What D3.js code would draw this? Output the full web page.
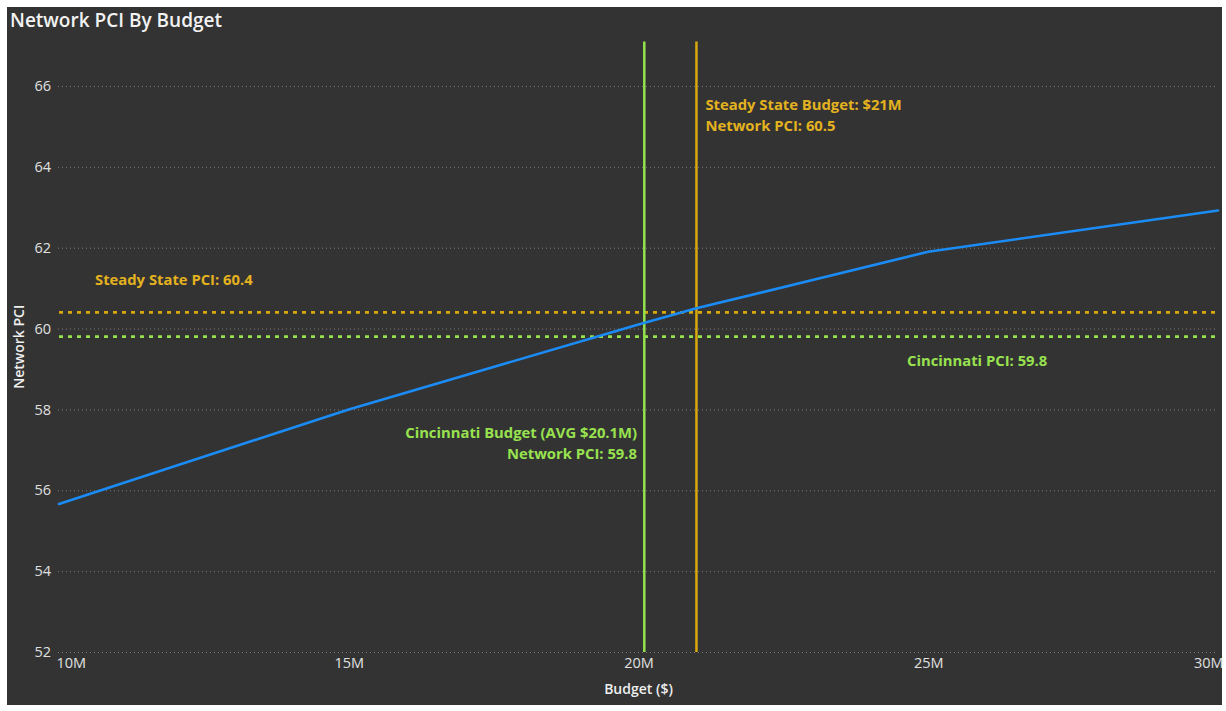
<!DOCTYPE html>
<html>
<head>
<meta charset="utf-8">
<script src="https://cdn.jsdelivr.net/npm/d3@7"></script>
<style>
  html, body { margin: 0; padding: 0; background: #ffffff; }
  svg { display: block; }
  text { font-family: "Open Sans", "Noto Sans", sans-serif; }
</style>
</head>
<body>
<svg id="chart" width="1226" height="711"></svg>
<script>
// Budget (millions of dollars) vs. resulting network PCI
const budgets = [10, 15, 20, 21, 25, 30];
const networkPci = [55.66, 58.0, 60.1, 60.5, 61.9, 62.92];

const yTicks = [52, 54, 56, 58, 60, 62, 64, 66];
const xTicks = [10, 15, 20, 25, 30];

// Reference values
const steadyStateBudget = 21;
const steadyStatePci = 60.4;
const cincinnatiBudget = 20.1;
const cincinnatiPci = 59.8;

const colors = {
  panel: "#333333",
  grid: "#7a7a7a",
  text: "#e0e0e0",
  line: "#1b8cf5",
  orange: "#d9a90d",
  orangeText: "#e3b21f",
  green: "#94e24c",
  greenText: "#98e24f"
};

const svg = d3.select("#chart");

svg.append("rect")
  .attr("x", 7).attr("y", 7)
  .attr("width", 1215).attr("height", 698)
  .attr("fill", colors.panel);

const x = d3.scaleLinear().domain([10, 30]).range([59, 1218]);
const y = d3.scaleLinear().domain([52, 67.1]).range([652, 41.5]);

// Title
svg.append("text")
  .attr("x", 10).attr("y", 27)
  .attr("fill", "#f2f2f2")
  .attr("font-size", 19)
  .attr("font-weight", 600)
  .text("Network PCI By Budget");

// Horizontal gridlines + y labels
const yAxis = svg.append("g")
  .attr("transform", `translate(${x.range()[0] - 1},0)`)
  .call(d3.axisLeft(y).tickValues(yTicks).tickSize(-(x.range()[1] - x.range()[0] + 1)).tickPadding(7));
yAxis.select(".domain").remove();
yAxis.selectAll(".tick line")
  .attr("stroke", colors.grid)
  .attr("stroke-width", 1)
  .attr("stroke-dasharray", "1,3");
yAxis.selectAll(".tick text")
  .attr("fill", colors.text)
  .attr("font-size", 14.5)
  .attr("font-family", "'Open Sans', 'Noto Sans', sans-serif");

// X axis labels
const xAxis = svg.append("g")
  .attr("transform", `translate(0,${y(52)})`)
  .call(d3.axisBottom(x).tickValues(xTicks).tickSize(0).tickPadding(6).tickFormat(d => d + "M"));
xAxis.select(".domain").remove();
xAxis.selectAll(".tick text")
  .attr("fill", colors.text)
  .attr("font-size", 14.5)
  .attr("font-family", "'Open Sans', 'Noto Sans', sans-serif")
  .attr("text-anchor", (d, i, n) => i === 0 ? "start" : (i === n.length - 1 ? "end" : "middle"))
  .attr("dx", (d, i, n) => i === 0 ? -3 : (i === n.length - 1 ? 5 : 0));

// Axis titles
svg.append("text")
  .attr("x", (x.range()[0] + x.range()[1]) / 2)
  .attr("y", 694)
  .attr("text-anchor", "middle")
  .attr("fill", "#eeeeee")
  .attr("font-size", 14)
  .attr("font-weight", 600)
  .text("Budget ($)");

svg.append("text")
  .attr("transform", `translate(24,${(y(52) + y(67.1)) / 2}) rotate(-90)`)
  .attr("text-anchor", "middle")
  .attr("fill", "#eeeeee")
  .attr("font-size", 14)
  .attr("font-weight", 600)
  .text("Network PCI");

// Horizontal reference lines (dashed)
const hRefs = [
  { v: steadyStatePci, c: colors.orange },
  { v: cincinnatiPci, c: colors.green }
];
svg.selectAll(".href").data(hRefs).enter().append("line")
  .attr("x1", x(10)).attr("x2", x(30))
  .attr("y1", d => y(d.v)).attr("y2", d => y(d.v))
  .attr("stroke", d => d.c)
  .attr("stroke-width", 2.6)
  .attr("stroke-dasharray", "4,5");

// Vertical reference lines (solid)
const vRefs = [
  { v: cincinnatiBudget, c: colors.green },
  { v: steadyStateBudget, c: colors.orange }
];
svg.selectAll(".vref").data(vRefs).enter().append("line")
  .attr("x1", d => x(d.v)).attr("x2", d => x(d.v))
  .attr("y1", y(67.1)).attr("y2", y(52))
  .attr("stroke", d => d.c)
  .attr("stroke-width", 2.5);

// PCI curve
const series = budgets.map((b, i) => ({ b, v: networkPci[i] }));
svg.append("path")
  .datum(series)
  .attr("fill", "none")
  .attr("stroke", colors.line)
  .attr("stroke-width", 2.6)
  .attr("stroke-linejoin", "round")
  .attr("stroke-linecap", "round")
  .attr("d", d3.line().x(d => x(d.b)).y(d => y(d.v)));

// Annotations
const label = (tx, ty, lines, color, anchor) => {
  const t = svg.append("text")
    .attr("x", tx).attr("y", ty)
    .attr("fill", color)
    .attr("font-size", 14.8)
    .attr("font-weight", 700)
    .attr("text-anchor", anchor);
  lines.forEach((s, i) => {
    t.append("tspan").attr("x", tx).attr("dy", i === 0 ? 0 : 20.5).text(s);
  });
};

label(x(steadyStateBudget) + 9, 110,
  [`Steady State Budget: $${steadyStateBudget}M`, `Network PCI: ${networkPci[budgets.indexOf(steadyStateBudget)].toFixed(1)}`],
  colors.orangeText, "start");

label(95, 285, [`Steady State PCI: ${steadyStatePci.toFixed(1)}`], colors.orangeText, "start");

label(907, 366, [`Cincinnati PCI: ${cincinnatiPci.toFixed(1)}`], colors.greenText, "start");

label(637, 438,
  [`Cincinnati Budget (AVG $${cincinnatiBudget.toFixed(1)}M)`, `Network PCI: ${cincinnatiPci.toFixed(1)}`],
  colors.greenText, "end");
</script>
</body>
</html>
